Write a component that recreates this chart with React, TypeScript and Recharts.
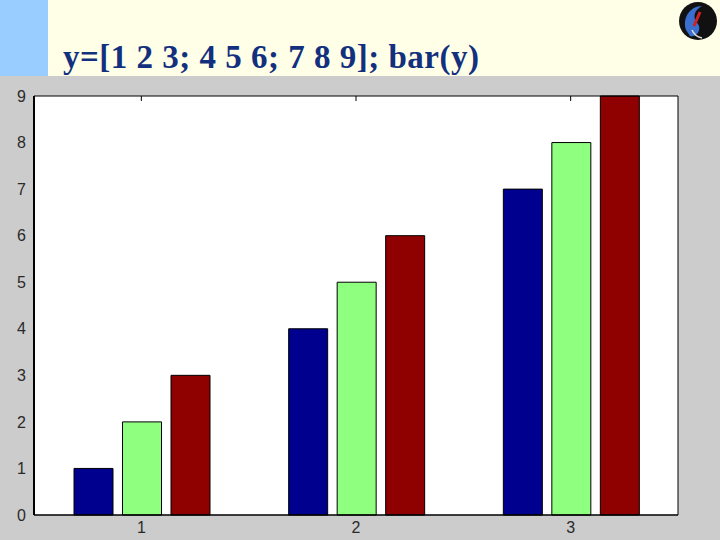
import React from 'react';
import { BarChart, Bar, XAxis, YAxis, CartesianGrid } from 'recharts';

// y=[1 2 3; 4 5 6; 7 8 9]; bar(y)
const categories = ['1', '2', '3'];
const col1 = [1, 4, 7];
const col2 = [2, 5, 8];
const col3 = [3, 6, 9];
const yTicks = [0, 1, 2, 3, 4, 5, 6, 7, 8, 9];

const data = categories.map((name, i) => ({ name, a: col1[i], b: col2[i], c: col3[i] }));

const axisFont = { fontSize: 16, fill: '#2a2a2a', fontFamily: 'Liberation Sans, Arial, sans-serif' };
const noLabel = () => <g />;

const Logo = () => (
  <svg width={44} height={44} style={{ position: 'absolute', left: 676, top: 0 }}>
    <circle cx={22} cy={21} r={19} fill="#111" />
    <path d="M10 30 C6 18, 14 6, 26 6 C18 10, 16 18, 22 24 C26 30, 20 38, 14 36 Z" fill="#3a6fd0" />
    <path d="M24 12 L18 26" stroke="#d02020" strokeWidth={3} />
    <path d="M16 30 C18 35, 22 37, 26 38" stroke="#ddd" strokeWidth={1.5} fill="none" />
  </svg>
);

export default function App() {
  return (
    <div style={{ position: 'absolute', left: 0, top: 0, width: 720, height: 540, background: '#cccccc', overflow: 'hidden' }}>
      <div style={{ position: 'absolute', left: 0, top: 0, width: 720, height: 76, background: '#ffffe8' }} />
      <div style={{ position: 'absolute', left: 0, top: 0, width: 48, height: 76, background: '#99ccff' }} />
      <div
        style={{
          position: 'absolute',
          left: 63,
          top: 37,
          fontFamily: 'Liberation Serif, Times New Roman, serif',
          fontWeight: 'bold',
          fontSize: 33,
          letterSpacing: 0.5,
          lineHeight: '40px',
          color: '#13307f',
          whiteSpace: 'nowrap',
        }}
      >
        y=[1 2 3; 4 5 6; 7 8 9]; bar(y)
      </div>
      <Logo />
      <div style={{ position: 'absolute', left: 0, top: 76 }}>
        <BarChart
          width={720}
          height={464}
          data={data}
          margin={{ top: 20, right: 42, left: 0, bottom: 0 }}
          barCategoryGap={40}
          barGap={9.5}
        >
          <CartesianGrid fill="#ffffff" horizontal={false} vertical={false} yAxisId="l" />
          <Bar dataKey="a" xAxisId="b" yAxisId="l" fill="#00008f" stroke="#000" strokeWidth={1} isAnimationActive={false} />
          <Bar dataKey="b" xAxisId="b" yAxisId="l" fill="#8fff80" stroke="#000" strokeWidth={1} isAnimationActive={false} />
          <Bar dataKey="c" xAxisId="b" yAxisId="l" fill="#8f0000" stroke="#000" strokeWidth={1} isAnimationActive={false} />
          <XAxis
            xAxisId="b"
            dataKey="name"
            height={25}
            axisLine={{ stroke: '#000', strokeWidth: 1.5 }}
            tickLine={false}
            tickSize={0}
            tickMargin={7}
            tick={axisFont}
          />
          <XAxis
            xAxisId="t"
            dataKey="name"
            orientation="top"
            mirror
            height={1}
            axisLine={{ stroke: '#000' }}
            tickLine={{ stroke: '#000' }}
            tickSize={5}
            tick={noLabel}
          />
          <YAxis
            yAxisId="l"
            width={34}
            domain={[0, 9]}
            ticks={yTicks}
            axisLine={{ stroke: '#000', strokeWidth: 2 }}
            tickLine={false}
            tickSize={0}
            tickMargin={8}
            tick={axisFont}
          />
          <YAxis
            yAxisId="lm"
            mirror
            width={1}
            domain={[0, 9]}
            ticks={yTicks}
            axisLine={false}
            tickLine={{ stroke: '#000' }}
            tickSize={5}
            tick={noLabel}
          />
          <YAxis
            yAxisId="r"
            orientation="right"
            mirror
            width={1}
            domain={[0, 9]}
            ticks={yTicks}
            axisLine={{ stroke: '#000' }}
            tickLine={{ stroke: '#000' }}
            tickSize={5}
            tick={noLabel}
          />
        </BarChart>
      </div>
    </div>
  );
}
